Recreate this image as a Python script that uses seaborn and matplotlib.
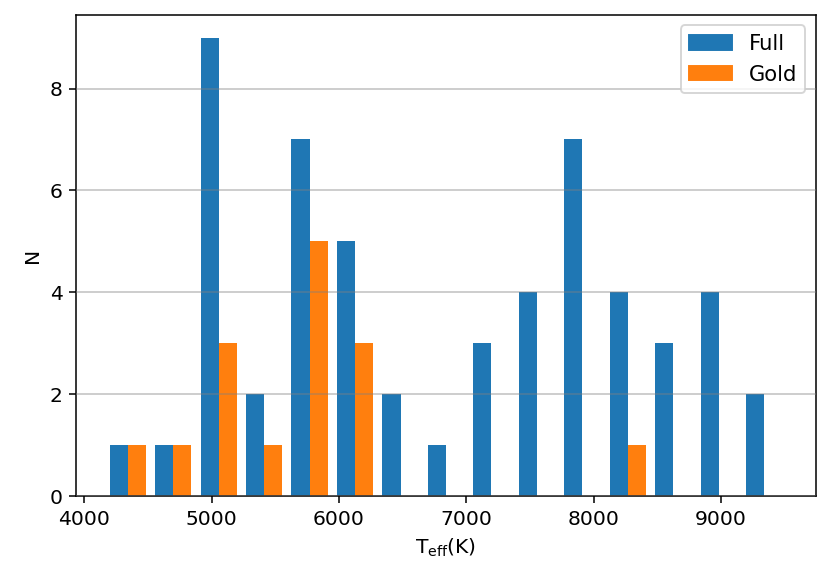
import numpy as np
import pandas as pd
import matplotlib
matplotlib.use("Agg")
import matplotlib.pyplot as plt
import seaborn as sns

# Teff histogram, 15 bins
teff_min = 4163
teff_max = 9518
n_bins = 15
full_counts = [1, 1, 9, 2, 7, 5, 2, 1, 3, 4, 7, 4, 3, 4, 2]
gold_counts = [1, 1, 3, 1, 5, 3, 0, 0, 0, 0, 0, 1, 0, 0, 0]
groups = ["Full", "Gold"]
colors = ["#1f77b4", "#ff7f0e"]

edges = np.linspace(teff_min, teff_max, n_bins + 1)
centers = (edges[:-1] + edges[1:]) / 2
df = pd.DataFrame({
    "Teff": np.concatenate([np.repeat(centers, full_counts), np.repeat(centers, gold_counts)]),
    "sample": ["Full"] * sum(full_counts) + ["Gold"] * sum(gold_counts),
})

sns.set_style("ticks")
plt.rcParams["font.family"] = ["DejaVu Sans"]
plt.rcParams["mathtext.default"] = "regular"
plt.rcParams["text.color"] = "black"
plt.rcParams["axes.labelcolor"] = "black"
plt.rcParams["xtick.color"] = "black"
plt.rcParams["ytick.color"] = "black"

fig, ax = plt.subplots(figsize=(6, 4.19), dpi=138.5)
fig.subplots_adjust(left=0.0915, right=0.982, bottom=0.145, top=0.974)

sns.histplot(data=df, x="Teff", hue="sample", hue_order=groups, palette=colors,
             bins=edges, multiple="dodge", shrink=0.8, alpha=1, linewidth=0,
             legend=False, ax=ax)

ax.set_ylim(0, 9.45)
ax.set_yticks([0, 2, 4, 6, 8])
ax.yaxis.grid(True, color="0.5", alpha=0.4, linewidth=1)
ax.set_axisbelow(False)
ax.set_xlabel(r"T$_{\rm eff}$(K)", fontsize=10.5)
ax.set_ylabel("N", fontsize=10.5)
ax.tick_params(labelsize=10.5, width=0.8, length=3.5)
for s in ax.spines.values():
    s.set_visible(True)
    s.set_linewidth(0.8)
    s.set_color("black")

handles = [plt.Rectangle((0, 0), 1, 1, color=c) for c in colors]
ax.legend(handles, groups, loc="upper right", fontsize=11)

fig.savefig("out.png", dpi=138.5)
